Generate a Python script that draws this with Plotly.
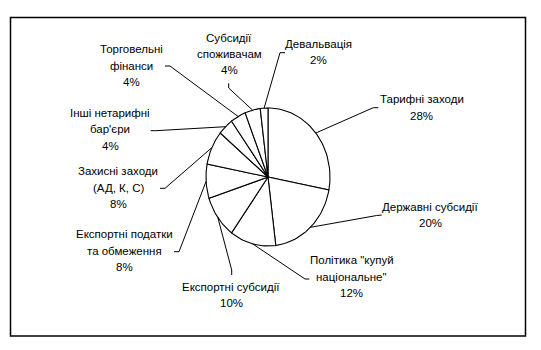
import math
import plotly.graph_objects as go

# ---- data ----
categories = [
    ["Тарифні заходи"],
    ["Державні субсидії"],
    ["Політика \"купуй", "національне\""],
    ["Експортні субсидії"],
    ["Експортні податки", "та обмеження"],
    ["Захисні заходи", "(АД, К, С)"],
    ["Інші нетарифні", "бар'єри"],
    ["Торговельні", "фінанси"],
    ["Субсидії", "споживачам"],
    ["Девальвація"],
]
values = [28, 20, 12, 10, 8, 8, 4, 4, 4, 2]

# ---- layout (pixel-like coordinates, y downwards) ----
W, H = 541, 350
CX, CY, RX, RY = 268, 177, 62, 69
FONT = "Liberation Sans, Arial, sans-serif"
LINE_H = 16.4

# label block centres and leader anchor points (label side)
label_pos = [
    (421.7, 107.3), (430, 214.7), (351.7, 276.7), (231, 294.7), (124, 250.7),
    (118.3, 187.5), (110, 129.2), (131.7, 65.5), (229.3, 54), (318.7, 52),
]
leader_start = [
    [(378.3, 107.7), (373.3, 107.7)],
    [(381.7, 215.0), (376.7, 215.5)],
    [(309.3, 279.0), (305.0, 279.0)],
    [(231.7, 275.0), (231.7, 270.0)],
    [(174.0, 251.7), (179.0, 251.7)],
    [(160.0, 188.3), (165.0, 188.3)],
    [(150.7, 130.7), (155.7, 130.7)],
    [(165.0, 66.0), (170.0, 66.0)],
    [(228.7, 83.3), (228.7, 88.0)],
    [(285.0, 52.7), (280.0, 52.7)],
]

total = sum(values)


def pt(theta_deg):
    t = math.radians(theta_deg)
    return CX + RX * math.sin(t), CY - RY * math.cos(t)


fig = go.Figure()
cum = 0.0
for i, v in enumerate(values):
    a0 = cum / total * 360
    a1 = (cum + v) / total * 360
    cum += v
    n = max(4, int((a1 - a0) / 2))
    xs, ys = [CX], [CY]
    for k in range(n + 1):
        x, y = pt(a0 + (a1 - a0) * k / n)
        xs.append(x)
        ys.append(y)
    xs.append(CX)
    ys.append(CY)
    fig.add_trace(go.Scatter(x=xs, y=ys, mode="lines", fill="toself",
                             fillcolor="white",
                             line=dict(color="black", width=1.1),
                             hoverinfo="skip", showlegend=False))
    # leader line
    mx, my = pt((a0 + a1) / 2)
    lx = [p[0] for p in leader_start[i]] + [mx]
    ly = [p[1] for p in leader_start[i]] + [my]
    fig.add_trace(go.Scatter(x=lx, y=ly, mode="lines",
                             line=dict(color="black", width=1),
                             hoverinfo="skip", showlegend=False))
    # label, one annotation per text line
    lines = categories[i] + [f"{v}%"]
    nl = len(lines)
    for j, txt in enumerate(lines):
        fig.add_annotation(x=label_pos[i][0],
                           y=label_pos[i][1] + (j - (nl - 1) / 2) * LINE_H,
                           xref="x", yref="y", text=txt, showarrow=False,
                           xanchor="center", yanchor="middle", align="center",
                           font=dict(family=FONT, size=11.5, color="black"))

fig.add_shape(type="rect", xref="x", yref="y", x0=10.5, y0=17.5, x1=525.5, y1=336,
              line=dict(color="black", width=1.5), fillcolor="rgba(0,0,0,0)")

fig.update_layout(
    width=W, height=H, margin=dict(l=0, r=0, t=0, b=0),
    paper_bgcolor="white", plot_bgcolor="white",
    xaxis=dict(range=[0, W], visible=False, fixedrange=True),
    yaxis=dict(range=[H, 0], visible=False, fixedrange=True),
    font=dict(family=FONT, size=12, color="black"),
)

fig.write_html("out.html")
